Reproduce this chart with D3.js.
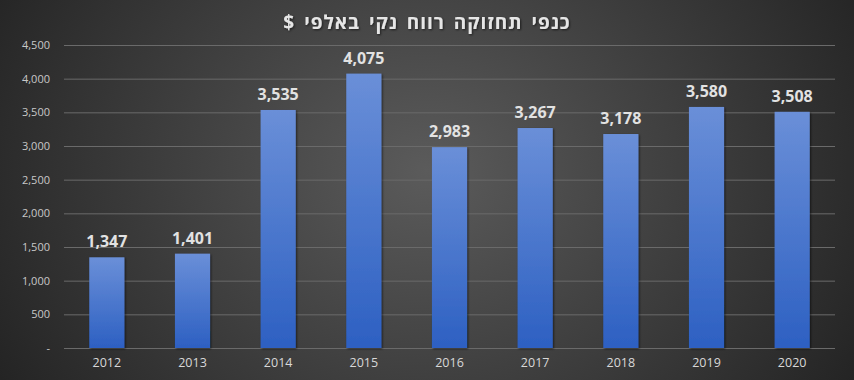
<!DOCTYPE html>
<html><head><meta charset="utf-8">
<script src="https://cdn.jsdelivr.net/npm/d3@7"></script>
<style>html,body{margin:0;padding:0;background:#2a2a2a;overflow:hidden}</style>
</head><body>
<svg id="c" width="854" height="380"></svg>
<script>
const title = "כנפי תחזוקה רווח נקי באלפי $";
const years = ["2012","2013","2014","2015","2016","2017","2018","2019","2020"];
const profits = [1347,1401,3535,4075,2983,3267,3178,3580,3508];
const yTicks = [0,500,1000,1500,2000,2500,3000,3500,4000,4500];

const W=854,H=380;
const m={left:64,right:19,top:45,bottom:32};
const svg=d3.select("#c");
const defs=svg.append("defs");
const bg=defs.append("radialGradient").attr("id","bg").attr("cx","50%").attr("cy","45%").attr("r","64%")
  .attr("gradientTransform","translate(0.5 0.45) scale(1 1.9) translate(-0.5 -0.45)");
bg.append("stop").attr("offset","0%").attr("stop-color","#5b5b5b");
bg.append("stop").attr("offset","100%").attr("stop-color","#1e1e1e");
const bar=defs.append("linearGradient").attr("id","bar").attr("x1",0).attr("y1",0).attr("x2",0).attr("y2",1);
bar.append("stop").attr("offset","0%").attr("stop-color","#6a8fd8");
bar.append("stop").attr("offset","100%").attr("stop-color","#2d60c2");
const sh=defs.append("filter").attr("id","sh").attr("x","-20%").attr("y","-20%").attr("width","140%").attr("height","140%");
sh.append("feDropShadow").attr("dx",1).attr("dy",1).attr("stdDeviation",1).attr("flood-color","#000").attr("flood-opacity",0.6);

svg.append("rect").attr("width",W).attr("height",H).attr("fill","url(#bg)");

const x=d3.scaleBand().domain(years).range([m.left,W-m.right]).paddingInner(0.59).paddingOuter(0.295);
const y=d3.scaleLinear().domain([0,4500]).range([348,45]);

const fmt=d3.format(",");
const yAxis=svg.append("g").attr("transform",`translate(${m.left},0)`)
  .call(d3.axisLeft(y).tickValues(yTicks).tickSize(-(W-m.left-m.right)).tickPadding(14)
    .tickFormat(d=>d===0?"-":fmt(d)));
yAxis.select(".domain").remove();
yAxis.selectAll(".tick line").attr("stroke","#6a6a6a").attr("stroke-width",1);
yAxis.selectAll(".tick text").attr("fill","#c8c8c8").attr("font-family","Open Sans, sans-serif").attr("font-size",11);

svg.selectAll("rect.b").data(profits).join("rect").attr("class","b")
  .attr("x",(d,i)=>x(years[i])).attr("width",x.bandwidth())
  .attr("y",d=>y(d)).attr("height",d=>y(0)-y(d))
  .attr("fill","url(#bar)").attr("filter","url(#sh)");

svg.selectAll("text.v").data(profits).join("text").attr("class","v")
  .attr("x",(d,i)=>x(years[i])+x.bandwidth()/2).attr("y",d=>y(d)-10)
  .attr("text-anchor","middle").attr("fill","#e2e2e2").attr("font-family","Open Sans, sans-serif")
  .attr("font-weight","bold").attr("font-size",16).text(d=>fmt(d));

const xAxis=svg.append("g").attr("transform","translate(0,348)")
  .call(d3.axisBottom(x).tickSize(0).tickPadding(10));
xAxis.select(".domain").remove();
xAxis.selectAll(".tick text").attr("fill","#d8d8d8").attr("font-family","Open Sans, sans-serif").attr("font-size",12.5);

svg.append("text").attr("x",427).attr("y",29).attr("text-anchor","middle").attr("direction","rtl")
  .style("unicode-bidi","embed")
  .attr("fill","#e6e6e6").attr("font-family","Open Sans, Noto Sans, sans-serif").attr("font-weight","bold")
  .attr("font-size",19).attr("letter-spacing",1).attr("word-spacing",3).attr("filter","url(#sh)").text(title);
</script>
</body></html>
